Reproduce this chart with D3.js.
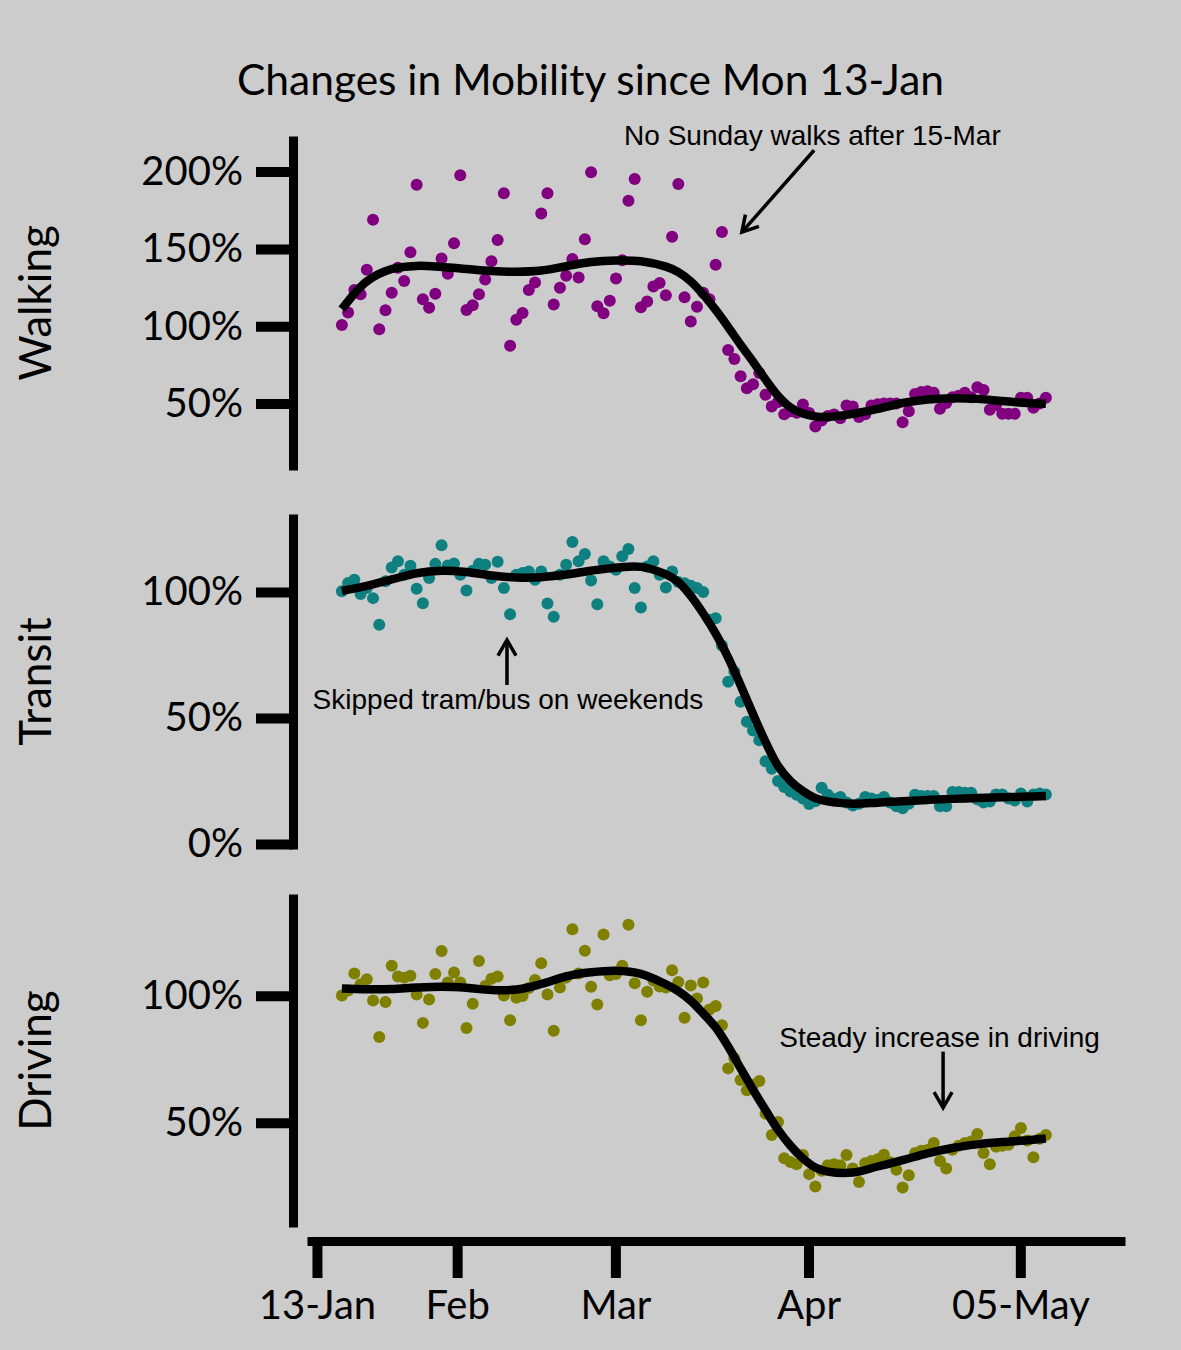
<!DOCTYPE html>
<html><head><meta charset="utf-8">
<script src="https://cdn.jsdelivr.net/npm/d3@7"></script>
<style>
html,body{margin:0;padding:0;background:#cccccc;}
svg{display:block;}
</style></head>
<body>
<svg id="chart" width="1181" height="1350"></svg>
<script>
// Day index 0 = Mon 13-Jan-2020, one value per day through 05-May (day 113)
const walking = [100.8,108.8,123.4,120.6,136.5,168.9,98,110.3,121.7,137.8,
  129.2,147.8,191.4,117.4,112,121,143.8,133.9,153.6,197.6,
  110.5,113.5,120.6,130.2,142,155.8,186,87.3,104.1,108.6,
  123.4,128.3,172.9,186,114,124.9,132.6,143.5,131.5,156.2,
  199.5,112.9,108.4,116.5,130.9,142.7,181.1,195.2,112.2,115.9,
  125.7,127.9,120,157.9,192,118.7,103,112.5,121.7,117.4,
  139.7,160.9,84.6,78.8,67.6,59.9,62.5,69.8,55.6,48.1,
  51,43,45,44,49.4,43.8,35.2,39,42,42.9,
  40.5,48.7,48.1,41.3,43,48.7,49.5,50,50,50,
  37.9,45,56.2,57.5,58,57,46.6,50.3,54.1,55,
  56.9,54,60.5,58.8,46,49,43.4,43.4,43.4,53.8,
  53.8,47.3,50,53.8];
const transit = [100.3,103.6,104.9,99.2,101.6,97.6,87,104.3,109.8,112.2,
  106.9,110.5,101.3,95.6,105.6,111.2,118.6,110.6,111.3,106.9,
  100.6,108.5,111.2,110.9,105.6,112,101.6,91.2,106.9,107.6,
  108.2,104.9,108.2,95.5,90.2,106.9,110.9,119.9,112.2,115.1,
  104.6,95.2,112.2,110.2,108.9,114.2,117.1,101.6,93.9,110.2,
  112.2,106.9,101.8,108.2,104,103.5,102.5,101.6,100,89,
  89.6,78.8,64.4,68.4,56.5,48.5,45,41.2,32.8,29.9,
  25,22.6,20.8,19.5,18,15.9,17,22.3,19.5,17.9,
  18.6,16.5,15.3,16,18.6,18,17.5,18.6,16.5,15,
  14.2,16,19.5,19,19,19,15,15,20.6,20.6,
  20.3,20.3,17.7,16.5,16.9,19.6,19.6,18,17.3,20,
  16.9,19.6,20,19.6];
const driving = [100.1,102,108.7,104.5,106.5,98.1,83.7,97.5,111.8,107.5,
  107.1,107.8,100.5,89.3,98.5,108.5,117.6,105.2,109.1,105.2,
  87.3,96.8,113.6,103.8,106.7,107.5,100.1,90.3,99.2,99.9,
  103,106.2,112.8,100.5,86.2,103.2,107.1,126.1,108.7,117.7,
  103.5,96.5,124.1,108,108.5,111.8,127.9,104.9,90.3,101.5,
  106,103.6,103.2,110,105.4,91.3,104,98.9,105.2,94.6,
  95.9,88.4,71.4,75.4,66.8,62.8,65,66.4,53.6,45.2,
  50.3,36,34.6,33.7,37.3,29.8,24.9,31.1,33.3,33.7,
  33.3,37.3,32,26.7,34.1,35,35.7,37.4,34.5,31.5,
  24.5,29.4,38.1,39,39.3,42,35,32,39.4,41,
  42,42.6,45.6,38.1,33.7,40.6,41,41.4,44.7,47.9,
  43,36.4,43.7,45.2];

const smoothDays = [0,4,8,12,16,20,24,28,32,36,40,44,48,52,54,56,58,60,62,64,66,68,70,72,74,76,78,82,86,90,94,98,102,106,110,113];
const walkingSmooth = [111,129,137,139,138.3,137,135.7,135.2,136,138.8,141.5,142.5,142,138.5,135,129,120.5,110.5,99.5,88,77,65.5,55,47.5,43.5,41.6,41.3,43.3,46.5,50.3,52.6,53.4,53,51.6,50.3,49.8];
const transitSmooth = [100.5,102.5,105,107.5,108.5,108,106.6,105.8,105.9,107,108.5,109.7,110,107,104,98.5,91.5,83.5,74,63,51.5,40.5,31,25,21,18.2,16.9,16,16.4,17,17.5,17.9,18.2,18.5,18.8,19];
const drivingSmooth = [102.8,102.5,102.6,103.2,103.5,103.1,102.2,102.4,104.6,107.6,109.2,109.8,108.6,104.5,101.8,98,93,87.5,80,71.4,63,55,47.3,41,36,32.4,30.8,30.4,32.8,35.3,38,40.1,41.5,42.4,43.1,43.8];

// Axis ticks
const xTickDays = [-4, 18.5, 43.9, 74.9, 108.9];
const xTickLabels = ["13-Jan","Feb","Mar","Apr","05-May"];
const walkingTicks = [50,100,150,200];
const transitTicks = [0,50,100];
const drivingTicks = [50,100];

const titleText = "Changes in Mobility since Mon 13-Jan";

const GILL = "Lato, 'Open Sans', sans-serif";
const HELV = "'Liberation Sans', Arial, Helvetica, sans-serif";

const svg = d3.select("#chart");
svg.append("rect").attr("width",1181).attr("height",1350).attr("fill","#cccccc");

const x = d3.scaleLinear().domain([-5.6, 125.7]).range([307, 1125]);

const panels = [
  {name:"Walking", values:walking, smooth:walkingSmooth, color:"#800080", domain:[7,223], range:[470,136], ticks:walkingTicks},
  {name:"Transit", values:transit, smooth:transitSmooth, color:"#0f8080", domain:[-2,131], range:[849,514], ticks:transitTicks},
  {name:"Driving", values:driving, smooth:drivingSmooth, color:"#808000", domain:[9,140], range:[1227,894], ticks:drivingTicks}
];

svg.append("text")
  .attr("x", 590.5).attr("y", 95)
  .attr("text-anchor","middle")
  .style("font-family", GILL).style("font-size","42.5px").attr("fill","#000")
  .text(titleText);

panels.forEach(p => {
  const y = d3.scaleLinear().domain(p.domain).range(p.range);
  p.y = y;
  const g = svg.append("g");
  // points
  g.append("g").selectAll("circle").data(p.values).join("circle")
    .attr("cx", (d,i) => x(i)).attr("cy", d => y(d))
    .attr("r", 6).attr("fill", p.color);
  // trend line
  const line = d3.line().x((d,i) => x(smoothDays[i])).y(d => y(d)).curve(d3.curveCatmullRom.alpha(0.5));
  g.append("path").datum(p.smooth).attr("d", line)
    .attr("fill","none").attr("stroke","#000").attr("stroke-width",8.5)
    .attr("stroke-linejoin","round");
  // y axis
  const ax = svg.append("g").attr("transform","translate(293,0)")
    .call(d3.axisLeft(y).tickValues(p.ticks).tickFormat(d => d + "%")
      .tickSize(37).tickSizeOuter(0).tickPadding(13));
  ax.select(".domain").attr("stroke","#000").attr("stroke-width",9);
  ax.selectAll(".tick line").attr("stroke","#000").attr("stroke-width",10);
  ax.selectAll(".tick text").style("font-family",GILL).style("font-size","40px").attr("fill","#000");
  // panel label
  const cy = (p.range[0] + p.range[1]) / 2;
  svg.append("text")
    .attr("transform", `translate(51,${cy}) rotate(-90)`)
    .attr("text-anchor","middle")
    .style("font-family",GILL).style("font-size","44px").attr("fill","#000")
    .text(p.name);
});

// x axis
const xa = svg.append("g").attr("transform","translate(0,1241)")
  .call(d3.axisBottom(x).tickValues(xTickDays).tickFormat((d,i) => xTickLabels[i])
    .tickSize(37).tickSizeOuter(0).tickPadding(13));
xa.select(".domain").attr("stroke","#000").attr("stroke-width",9);
xa.selectAll(".tick line").attr("stroke","#000").attr("stroke-width",10);
xa.selectAll(".tick text").style("font-family",GILL).style("font-size","40px").attr("fill","#000");

// annotations (positions in data coordinates: day index, percent)
const annotations = [
  {panel:0, text:"No Sunday walks after 15-Mar", tx:45.3, ty:217, from:[75.8,213.8], to:[64.2,160.8]},
  {panel:1, text:"Skipped tram/bus on weekends", tx:-4.7, ty:53.5, from:[26.5,63.1], to:[26.5,81]},
  {panel:2, text:"Steady increase in driving", tx:70.2, ty:79.8, from:[96.5,78], to:[96.5,55.9]}
];
annotations.forEach(a => {
  const y = panels[a.panel].y;
  svg.append("text").attr("x", x(a.tx)).attr("y", y(a.ty))
    .style("font-family",HELV).style("font-size","28px").attr("fill","#000")
    .text(a.text);
  const x1 = x(a.from[0]), y1 = y(a.from[1]), x2 = x(a.to[0]), y2 = y(a.to[1]);
  svg.append("line").attr("x1",x1).attr("y1",y1).attr("x2",x2).attr("y2",y2)
    .attr("stroke","#000").attr("stroke-width",3.5);
  const ang = Math.atan2(y1 - y2, x1 - x2);
  const L = 18, w = Math.PI / 6;
  const p1 = [x2 + L*Math.cos(ang + w), y2 + L*Math.sin(ang + w)];
  const p2 = [x2 + L*Math.cos(ang - w), y2 + L*Math.sin(ang - w)];
  svg.append("path").attr("d", `M${p1[0]},${p1[1]}L${x2},${y2}L${p2[0]},${p2[1]}`)
    .attr("fill","none").attr("stroke","#000").attr("stroke-width",3.5)
    .attr("stroke-linejoin","miter");
});
</script>
</body></html>
